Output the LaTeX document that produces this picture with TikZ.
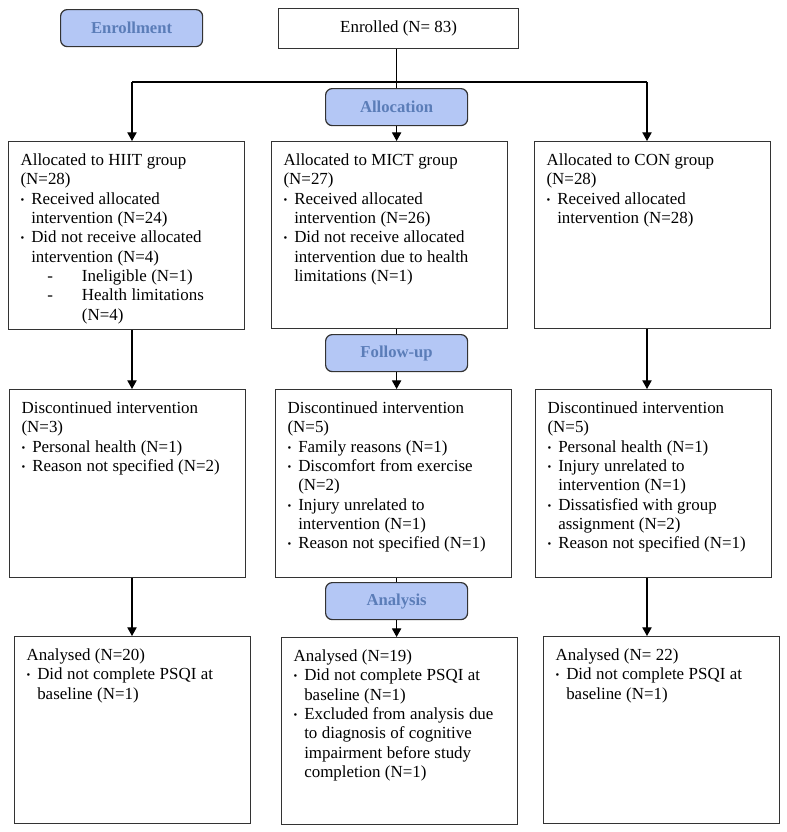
\documentclass[tikz,border=0pt]{standalone}
\usepackage{fontspec}
\setmainfont{Liberation Serif}
\usetikzlibrary{arrows.meta}

\definecolor{stagefill}{HTML}{B4C7F5}
\definecolor{stagetext}{HTML}{5B7DB8}

\tikzset{every picture/.style={line width=0.9pt}}

% box contents
\newcommand{\boxbody}[2]{\parbox[t][#1][t]{\linewidth}{\raggedright\let\\\newline\fontsize{12.7}{14.5}\selectfont #2}}
\newcommand{\bul}[1]{\par\hangindent=8pt\hangafter=1\makebox[8pt][l]{\raisebox{0.6pt}{\fontsize{8}{8}\selectfont\textbullet}}#1}
\newcommand{\dashitem}[1]{\par\hangindent=46pt\hangafter=1\hspace*{20pt}\makebox[26pt][l]{-}#1}

\begin{document}
\begin{tikzpicture}[x=0.75pt,y=-0.75pt,
    groupbox/.style={draw=black!80, anchor=north west, inner xsep=9pt, inner ysep=9pt, text width=159pt, align=left},
    stage/.style={draw=black!80, rounded corners=5pt, fill=stagefill, anchor=north west, minimum width=106.5pt, minimum height=27.75pt, text=stagetext, font=\bfseries\fontsize{12.5}{14}\selectfont},
    arr/.style={-{Triangle[width=7pt,length=6.5pt]}}]
    \useasboundingbox (0,0) rectangle (787,832);

    \node (enrollment) at (60,9) [stage] {Enrollment};
    \node (enrolled) at (278,8) [draw=black!80, anchor=north west, minimum width=180pt, minimum height=30pt, font=\fontsize{12.7}{14.5}\selectfont] {Enrolled (N= 83)};

    \node (alloc) at (325,88) [stage] {Allocation};
    \node (followup) at (325,334) [stage] {Follow-up};
    \node (analysis) at (325,582) [stage] {Analysis};

    \coordinate (colL) at (132,82);
    \coordinate (colR) at (647,82);

    % allocation row
    \node (hiitA) at (8,141) [groupbox] {\boxbody{123pt}{Allocated to HIIT group\\(N=28)
        \bul{Received allocated\\intervention (N=24)}
        \bul{Did not receive allocated\\intervention (N=4)}
        \dashitem{Ineligible (N=1)}
        \dashitem{Health limitations\\(N=4)}}};
    \node (mictA) at (271,141) [groupbox] {\boxbody{122pt}{Allocated to MICT group\\(N=27)
        \bul{Received allocated\\intervention (N=26)}
        \bul{Did not receive allocated\\intervention due to health\\limitations (N=1)}}};
    \node (conA) at (534,141) [groupbox] {\boxbody{122pt}{Allocated to CON group\\(N=28)
        \bul{Received allocated\\intervention (N=28)}}};

    % follow-up row
    \node (hiitF) at (9,389) [groupbox] {\boxbody{123pt}{Discontinued intervention\\(N=3)
        \bul{Personal health (N=1)}
        \bul{Reason not specified (N=2)}}};
    \node (mictF) at (275,389) [groupbox] {\boxbody{123pt}{Discontinued intervention\\(N=5)
        \bul{Family reasons (N=1)}
        \bul{Discomfort from exercise\\(N=2)}
        \bul{Injury unrelated to\\intervention (N=1)}
        \bul{Reason not specified (N=1)}}};
    \node (conF) at (535,389) [groupbox] {\boxbody{123pt}{Discontinued intervention\\(N=5)
        \bul{Personal health (N=1)}
        \bul{Injury unrelated to\\intervention (N=1)}
        \bul{Dissatisfied with group\\assignment (N=2)}
        \bul{Reason not specified (N=1)}}};

    % analysis row
    \node (hiitN) at (14,636) [groupbox] {\boxbody{122pt}{Analysed (N=20)
        \bul{Did not complete PSQI at\\baseline (N=1)}}};
    \node (mictN) at (281,637) [groupbox] {\boxbody{122pt}{Analysed (N=19)
        \bul{Did not complete PSQI at\\baseline (N=1)}
        \bul{Excluded from analysis due\\to diagnosis of cognitive\\impairment before study\\completion (N=1)}}};
    \node (conN) at (543,636) [groupbox] {\boxbody{122pt}{Analysed (N= 22)
        \bul{Did not complete PSQI at\\baseline (N=1)}}};

    % connectors
    \draw (enrolled.south -| alloc.north) -- (alloc.north);
    \draw (colL) -- (colR);
    \draw[arr] (colL) -- (colL |- hiitA.north);
    \draw[arr] (colR) -- (colR |- conA.north);
    \draw[arr] (alloc.south) -- (alloc.south |- mictA.north);

    \draw[arr] (colL |- hiitA.south) -- (colL |- hiitF.north);
    \draw[arr] (colR |- conA.south) -- (colR |- conF.north);
    \draw (mictA.south -| followup) -- (followup);
    \draw[arr] (followup.south) -- (followup.south |- mictF.north);

    \draw[arr] (colL |- hiitF.south) -- (colL |- hiitN.north);
    \draw[arr] (colR |- conF.south) -- (colR |- conN.north);
    \draw (mictF.south -| analysis) -- (analysis);
    \draw[arr] (analysis.south) -- (analysis.south |- mictN.north);
\end{tikzpicture}
\end{document}
